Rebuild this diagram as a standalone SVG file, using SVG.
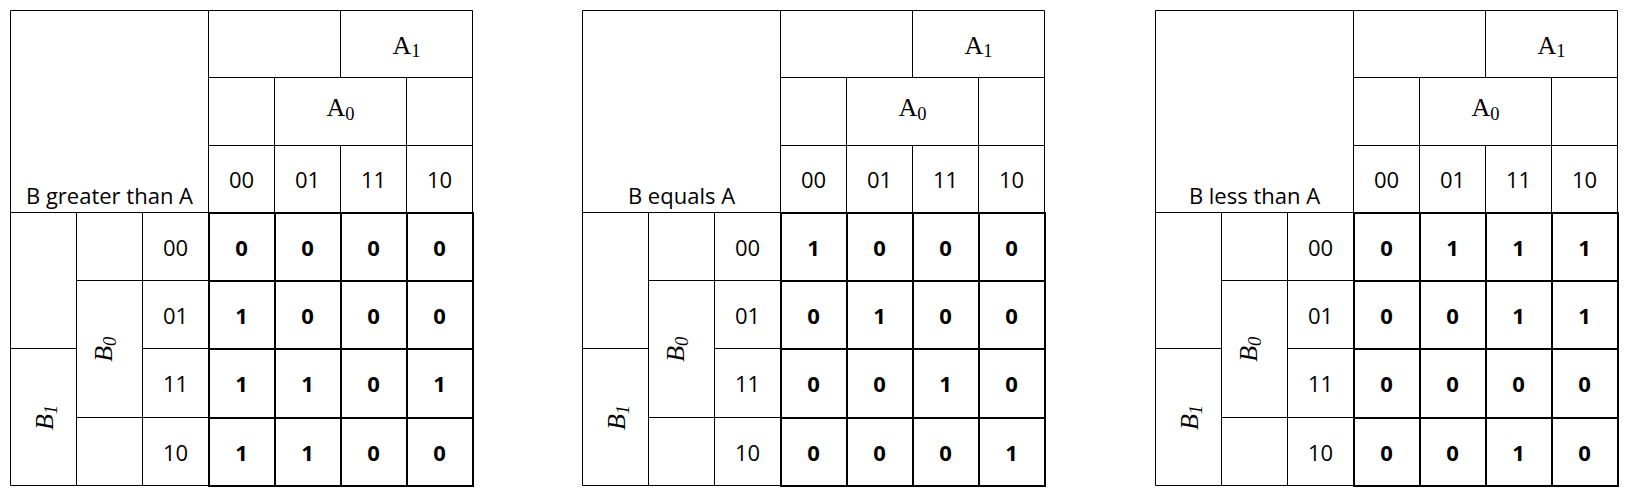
<svg xmlns="http://www.w3.org/2000/svg" xmlns:xlink="http://www.w3.org/1999/xlink" width="1632" height="498" viewBox="0 0 1632 498">
<style>
.thin{stroke:#000;stroke-width:1;fill:none}
.thick{stroke:#000;stroke-width:2;fill:none}
.t{font-family:"Open Sans","Liberation Sans",sans-serif;font-size:22px;fill:#000;text-anchor:middle}
.v{font-weight:bold}
.m{font-family:"Liberation Serif","DejaVu Serif",serif;font-size:26px;fill:#000;text-anchor:middle}
.i{font-style:italic}
.sub{font-size:18.5px}
</style>
<defs>
<g id="grid">
<path class="thin" d="M0,0H462V202 M0,0V475H198 M198,0V202 M198,67H462 M330,0V67 M198,135H462 M264,67V202 M396,67V202 M330,135V202 M0,202H198 M66,202V475 M132,202V475 M0,338H66 M66,270H198 M66,407H198 M132,338H198"/>
<path class="thick" transform="translate(0.5,0.5)" d="M198,202H462V475H198Z M264,202V475 M330,202V475 M396,202V475 M198,270H462 M198,338H462 M198,407H462"/>
</g>
<g id="labels">
<text class="m" x="396" y="43">A<tspan class="sub" dy="3.5">1</tspan></text>
<text class="m" x="330" y="105.5">A<tspan class="sub" dy="3.5">0</tspan></text>
<text class="t" x="231" y="177.5">00</text>
<text class="t" x="297" y="177.5">01</text>
<text class="t" x="363" y="177.5">11</text>
<text class="t" x="429" y="177.5">10</text>
<text class="t" x="165" y="245.2">00</text>
<text class="t" x="165" y="313.2">01</text>
<text class="t" x="165" y="381.7">11</text>
<text class="t" x="165" y="450.2">10</text>
<text class="m i" transform="translate(101,338.8) rotate(-90)">B<tspan class="sub" dy="4">0</tspan></text>
<text class="m i" transform="translate(42.5,407) rotate(-90)">B<tspan class="sub" dy="4">1</tspan></text>
</g>
</defs>

<g id="kmap-greater" transform="translate(10.5,10.5)">
<use xlink:href="#grid" href="#grid"/>
<use xlink:href="#labels" href="#labels"/>
<text class="t" x="99" y="193.5">B greater than A</text>
<g class="t v">
<text x="231" y="245.2">0</text><text x="297" y="245.2">0</text><text x="363" y="245.2">0</text><text x="429" y="245.2">0</text>
<text x="231" y="313.2">1</text><text x="297" y="313.2">0</text><text x="363" y="313.2">0</text><text x="429" y="313.2">0</text>
<text x="231" y="381.7">1</text><text x="297" y="381.7">1</text><text x="363" y="381.7">0</text><text x="429" y="381.7">1</text>
<text x="231" y="450.2">1</text><text x="297" y="450.2">1</text><text x="363" y="450.2">0</text><text x="429" y="450.2">0</text>
</g>
</g>

<g id="kmap-equal" transform="translate(582.5,10.5)">
<use xlink:href="#grid" href="#grid"/>
<use xlink:href="#labels" href="#labels"/>
<text class="t" x="99" y="193.5">B equals A</text>
<g class="t v">
<text x="231" y="245.2">1</text><text x="297" y="245.2">0</text><text x="363" y="245.2">0</text><text x="429" y="245.2">0</text>
<text x="231" y="313.2">0</text><text x="297" y="313.2">1</text><text x="363" y="313.2">0</text><text x="429" y="313.2">0</text>
<text x="231" y="381.7">0</text><text x="297" y="381.7">0</text><text x="363" y="381.7">1</text><text x="429" y="381.7">0</text>
<text x="231" y="450.2">0</text><text x="297" y="450.2">0</text><text x="363" y="450.2">0</text><text x="429" y="450.2">1</text>
</g>
</g>

<g id="kmap-less" transform="translate(1155.5,10.5)">
<use xlink:href="#grid" href="#grid"/>
<use xlink:href="#labels" href="#labels"/>
<text class="t" x="99" y="193.5">B less than A</text>
<g class="t v">
<text x="231" y="245.2">0</text><text x="297" y="245.2">1</text><text x="363" y="245.2">1</text><text x="429" y="245.2">1</text>
<text x="231" y="313.2">0</text><text x="297" y="313.2">0</text><text x="363" y="313.2">1</text><text x="429" y="313.2">1</text>
<text x="231" y="381.7">0</text><text x="297" y="381.7">0</text><text x="363" y="381.7">0</text><text x="429" y="381.7">0</text>
<text x="231" y="450.2">0</text><text x="297" y="450.2">0</text><text x="363" y="450.2">1</text><text x="429" y="450.2">0</text>
</g>
</g>
</svg>
